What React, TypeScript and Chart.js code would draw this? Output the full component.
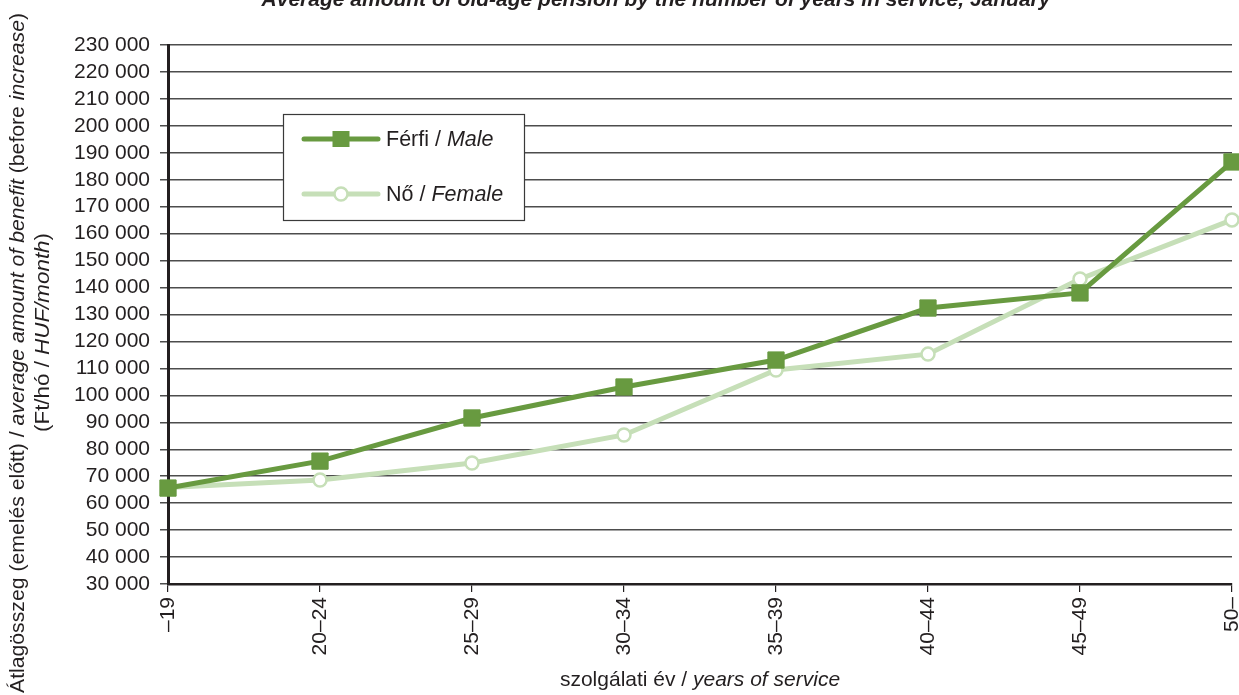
import React, { useEffect, useRef } from 'react';
import { Chart, registerables } from 'chart.js';

Chart.register(...registerables);

const categories = ['–19', '20–24', '25–29', '30–34', '35–39', '40–44', '45–49', '50–'];
const maleValues = [65600, 75600, 91600, 103100, 113100, 132400, 138000, 186600];
const femaleValues = [65800, 68600, 74900, 85300, 109400, 115300, 143200, 165100];
const yMin = 30000;
const yMax = 230000;
const yStep = 10000;

const titleText = 'Average amount of old-age pension by the number of years in service, January';
const maleLabel = [{ t: 'Férfi / ' }, { t: 'Male', i: true }];
const femaleLabel = [{ t: 'Nő / ' }, { t: 'Female', i: true }];
const xTitleRuns = [{ t: 'szolgálati év / ' }, { t: 'years of service', i: true }];
const yTitleLine1 = [
  { t: 'Átlagösszeg (emelés előtt) / ' },
  { t: 'average amount of benefit', i: true },
  { t: ' (before ' },
  { t: 'increase', i: true },
  { t: ')' },
];
const yTitleLine2 = [{ t: '(Ft/hó / ' }, { t: 'HUF/month', i: true }, { t: ')' }];

const FAMILY = '"Liberation Sans", Arial, Helvetica, sans-serif';
const TEXT = '#231f20';
const MALE = '#689a40';
const FEMALE = '#c6dfb8';

type Run = { t: string; i?: boolean; b?: boolean };

function fontOf(r: Run, size: number) {
  return `${r.i ? 'italic ' : ''}${r.b ? 'bold ' : ''}${size}px ${FAMILY}`;
}
function runsWidth(ctx: CanvasRenderingContext2D, runs: Run[], size: number) {
  let w = 0;
  for (const r of runs) {
    ctx.font = fontOf(r, size);
    w += ctx.measureText(r.t).width;
  }
  return w;
}
function drawRuns(ctx: CanvasRenderingContext2D, runs: Run[], size: number, x: number, y: number) {
  let cx = x;
  ctx.textAlign = 'left';
  for (const r of runs) {
    ctx.font = fontOf(r, size);
    ctx.fillText(r.t, cx, y);
    cx += ctx.measureText(r.t).width;
  }
}

const decorPlugin = {
  id: 'decor',
  afterDraw(chart: any) {
    const ctx: CanvasRenderingContext2D = chart.ctx;
    ctx.save();
    ctx.fillStyle = TEXT;

    // Title (clipped at top)
    ctx.font = `italic bold 21px ${FAMILY}`;
    ctx.textAlign = 'center';
    ctx.textBaseline = 'alphabetic';
    ctx.fillText(titleText, 656, 6);

    // X title
    ctx.textBaseline = 'alphabetic';
    const xw = runsWidth(ctx, xTitleRuns, 21);
    drawRuns(ctx, xTitleRuns, 21, 700 - xw / 2, 686);

    // Y title line 1
    ctx.textBaseline = 'middle';
    ctx.save();
    ctx.translate(18, 693);
    ctx.rotate(-Math.PI / 2);
    const w1 = runsWidth(ctx, yTitleLine1, 21);
    ctx.scale(680 / w1, 1);
    drawRuns(ctx, yTitleLine1, 21, 0, 0);
    ctx.restore();

    // Y title line 2
    ctx.save();
    ctx.translate(43, 432);
    ctx.rotate(-Math.PI / 2);
    const w2 = runsWidth(ctx, yTitleLine2, 21);
    ctx.scale(199 / w2, 1);
    drawRuns(ctx, yTitleLine2, 21, 0, 0);
    ctx.restore();

    // Legend box
    const bx = 283, by = 114, bw = 241, bh = 106;
    ctx.fillStyle = '#ffffff';
    ctx.fillRect(bx, by, bw, bh);
    ctx.strokeStyle = '#3a3a3a';
    ctx.lineWidth = 1.2;
    ctx.strokeRect(bx + 0.5, by + 0.5, bw, bh);

    // Male sample
    ctx.strokeStyle = MALE;
    ctx.lineWidth = 5;
    ctx.lineCap = 'round';
    ctx.beginPath();
    ctx.moveTo(304, 139);
    ctx.lineTo(378, 139);
    ctx.stroke();
    ctx.fillStyle = MALE;
    ctx.fillRect(341 - 8.5, 139 - 8, 17, 16);

    // Female sample
    ctx.strokeStyle = FEMALE;
    ctx.beginPath();
    ctx.moveTo(304, 194);
    ctx.lineTo(378, 194);
    ctx.stroke();
    ctx.fillStyle = '#ffffff';
    ctx.lineWidth = 2.5;
    ctx.beginPath();
    ctx.arc(341, 194, 6.5, 0, Math.PI * 2);
    ctx.fill();
    ctx.stroke();

    ctx.fillStyle = TEXT;
    ctx.textBaseline = 'middle';
    drawRuns(ctx, maleLabel, 21.5, 386, 140);
    drawRuns(ctx, femaleLabel, 21.5, 386, 195);

    ctx.restore();
  },
};

export default function App() {
  const ref = useRef<HTMLCanvasElement | null>(null);

  useEffect(() => {
    if (!ref.current) return;
    const chart = new Chart(ref.current, {
      type: 'line',
      data: {
        labels: categories,
        datasets: [
          {
            label: 'Férfi / Male',
            data: maleValues,
            borderColor: MALE,
            backgroundColor: MALE,
            borderWidth: 5,
            pointStyle: 'rect',
            pointRadius: 11.5,
            pointBorderWidth: 1,
            pointBackgroundColor: MALE,
            pointBorderColor: MALE,
            tension: 0,
            clip: false as any,
          },
          {
            label: 'Nő / Female',
            data: femaleValues,
            borderColor: FEMALE,
            backgroundColor: '#ffffff',
            borderWidth: 5,
            pointStyle: 'circle',
            pointRadius: 6.5,
            pointBorderWidth: 2.5,
            pointBackgroundColor: '#ffffff',
            pointBorderColor: FEMALE,
            tension: 0,
            clip: false as any,
          },
        ],
      },
      options: {
        responsive: false,
        animation: false,
        layout: { autoPadding: false, padding: { top: 45, right: 7, bottom: 0, left: 0 } },
        plugins: {
          legend: { display: false },
          title: { display: false },
          tooltip: { enabled: false },
        },
        scales: {
          x: {
            type: 'category',
            offset: false,
            grid: {
              display: true,
              drawOnChartArea: false,
              drawTicks: true,
              tickLength: 8,
              color: TEXT,
              lineWidth: 1.2,
            },
            border: { display: true, color: TEXT, width: 2.5 },
            ticks: {
              autoSkip: false,
              maxRotation: 90,
              minRotation: 90,
              padding: 5,
              color: TEXT,
              font: { family: FAMILY, size: 21 },
            },
            afterFit: (s: any) => {
              s.height = 111;
              s.paddingLeft = 0;
              s.paddingRight = 0;
            },
          },
          y: {
            min: yMin,
            max: yMax,
            grid: {
              color: '#4d4d4d',
              lineWidth: 1.5,
              drawTicks: true,
              tickLength: 8,
              tickColor: '#4d4d4d',
            },
            border: { display: true, color: TEXT, width: 3 },
            ticks: {
              autoSkip: false,
              stepSize: yStep,
              padding: 10,
              color: TEXT,
              font: { family: FAMILY, size: 21, lineHeight: 1 },
              callback: (v: any) => `${Math.round(Number(v) / 1000)} 000`,
            },
            afterFit: (s: any) => {
              s.width = 168;
            },
          },
        },
      },
      plugins: [decorPlugin],
    });
    return () => chart.destroy();
  }, []);

  return (
    <div style={{ position: 'fixed', left: 0, top: 0, width: 1239, height: 695, background: '#fff' }}>
      <canvas ref={ref} width={1239} height={695} style={{ display: 'block' }} />
    </div>
  );
}
